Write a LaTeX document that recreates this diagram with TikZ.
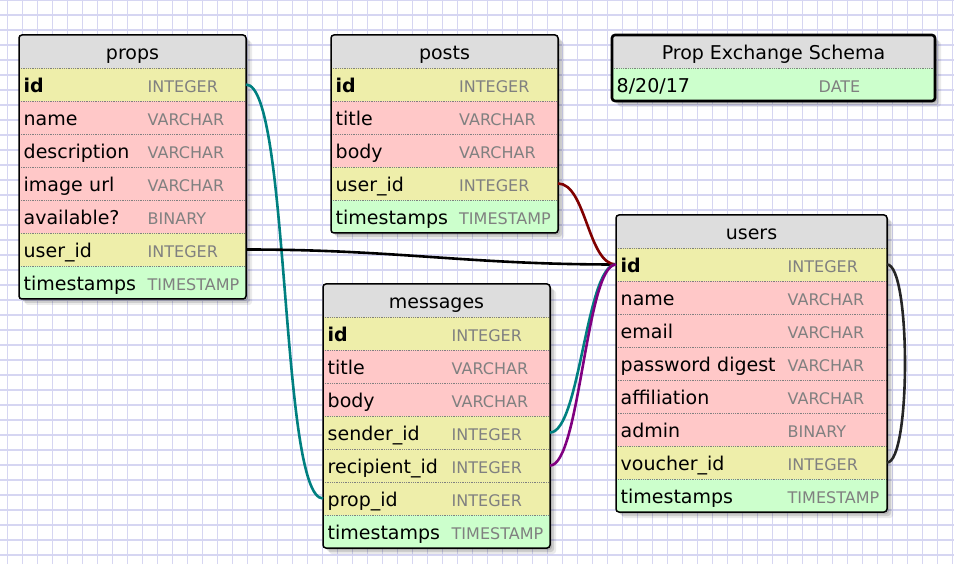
\documentclass[tikz,border=0pt]{standalone}
\usepackage{fontspec}
\setmainfont{DejaVu Sans}
\usetikzlibrary{shadows}

\definecolor{gridline}{RGB}{214,214,242}
\definecolor{headgray}{RGB}{221,221,221}
\definecolor{keyyellow}{RGB}{238,238,170}
\definecolor{fieldpink}{RGB}{255,200,200}
\definecolor{stampgreen}{RGB}{204,255,204}
\definecolor{typegray}{RGB}{128,128,128}
\definecolor{linkteal}{RGB}{0,128,128}
\definecolor{linkred}{RGB}{128,0,0}
\definecolor{linkpurple}{RGB}{128,0,128}

\pgfdeclarelayer{back}
\pgfsetlayers{back,main}

% field name in a fixed column, then its type
\newcommand{\fld}[3]{\makebox[#1][l]{#2}{\fontsize{16}{16}\selectfont\color{typegray}#3}}

\begin{document}
\begin{tikzpicture}[
    x=1pt, y=-1pt,
    every node/.style={outer sep=0pt, font=\fontsize{19}{19}\selectfont},
    tablehead/.style={anchor=north west, fill=headgray, minimum height=33pt,
        text height=17pt, text depth=1.5pt, inner sep=0pt},
    tablerow/.style={anchor=north west, minimum height=33pt, align=left,
        text height=17pt, text depth=1.5pt, inner xsep=4.7pt, inner ysep=0pt},
    rowsep/.style={typegray, densely dotted, line width=0.8pt},
    tableframe/.style={draw=black, line width=1.5pt, rounded corners=3pt},
    tableshadow/.style={fill=white, rounded corners=3pt,
        general shadow={shadow xshift=2pt, shadow yshift=-2pt, fill=black, opacity=0.12},
        general shadow={shadow xshift=4pt, shadow yshift=-4pt, fill=black, opacity=0.12},
        general shadow={shadow xshift=6pt, shadow yshift=-6pt, fill=black, opacity=0.08}},
    link/.style={line width=2.6pt},
    ]
    \useasboundingbox (0,0) rectangle (954,564);
    \begin{pgfonlayer}{back}
        \fill[white] (0,0) rectangle (954,564);
        \foreach \gx in {7.5,22.5,...,952.5}
            \draw[gridline, line width=1.2pt] (\gx,0) -- (\gx,564);
        \foreach \gy in {0,15,...,555}
            \draw[gridline, line width=1.2pt] (0,\gy) -- (954,\gy);
    \end{pgfonlayer}

    % props
    \node[tablehead, minimum width=227pt] (props-0) at (19,35) {props};
    \foreach \f/\t/\c [count=\i] in {{\bfseries id}/INTEGER/keyyellow,
        name/VARCHAR/fieldpink, description/VARCHAR/fieldpink,
        image url/VARCHAR/fieldpink, available?/BINARY/fieldpink,
        user\_id/INTEGER/keyyellow, timestamps/TIMESTAMP/stampgreen} {
        \node[tablerow, fill=\c, text width=217.6pt] (props-\i) at (19,{35+33*\i}) {\fld{124pt}{\f}{\t}};
        \draw[rowsep] (props-\i.north west) -- (props-\i.north east);
    }

    % posts
    \node[tablehead, minimum width=227pt] (posts-0) at (331,35) {posts};
    \foreach \f/\t/\c [count=\i] in {{\bfseries id}/INTEGER/keyyellow,
        title/VARCHAR/fieldpink, body/VARCHAR/fieldpink,
        user\_id/INTEGER/keyyellow, timestamps/TIMESTAMP/stampgreen} {
        \node[tablerow, fill=\c, text width=217.6pt] (posts-\i) at (331,{35+33*\i}) {\fld{123.5pt}{\f}{\t}};
        \draw[rowsep] (posts-\i.north west) -- (posts-\i.north east);
    }

    % messages
    \node[tablehead, minimum width=227pt] (messages-0) at (323,284) {messages};
    \foreach \f/\t/\c [count=\i] in {{\bfseries id}/INTEGER/keyyellow,
        title/VARCHAR/fieldpink, body/VARCHAR/fieldpink,
        sender\_id/INTEGER/keyyellow, recipient\_id/INTEGER/keyyellow,
        prop\_id/INTEGER/keyyellow, timestamps/TIMESTAMP/stampgreen} {
        \node[tablerow, fill=\c, text width=217.6pt] (messages-\i) at (323,{284+33*\i}) {\fld{124pt}{\f}{\t}};
        \draw[rowsep] (messages-\i.north west) -- (messages-\i.north east);
    }

    % users
    \node[tablehead, minimum width=271pt] (users-0) at (616,215) {users};
    \foreach \f/\t/\c [count=\i] in {{\bfseries id}/INTEGER/keyyellow,
        name/VARCHAR/fieldpink, email/VARCHAR/fieldpink,
        password digest/VARCHAR/fieldpink, affiliation/VARCHAR/fieldpink,
        admin/BINARY/fieldpink, voucher\_id/INTEGER/keyyellow,
        timestamps/TIMESTAMP/stampgreen} {
        \node[tablerow, fill=\c, text width=261.6pt] (users-\i) at (616,{215+33*\i}) {\fld{167pt}{\f}{\t}};
        \draw[rowsep] (users-\i.north west) -- (users-\i.north east);
    }

    % schema title
    \node[tablehead, minimum width=323pt] (schema-0) at (612,35) {Prop Exchange Schema};
    \node[tablerow, fill=stampgreen, text width=313.6pt] (schema-1) at (612,68) {\fld{202pt}{8/20/17}{DATE}};
    \draw[rowsep] (schema-1.north west) -- (schema-1.north east);

    \begin{pgfonlayer}{back}
        \foreach \tb/\n in {props/7, posts/5, messages/7, users/8, schema/1}
            \path[tableshadow] (\tb-0.north west) rectangle (\tb-\n.south east);
    \end{pgfonlayer}
    \foreach \tb/\n in {props/7, posts/5, messages/7, users/8}
        \draw[tableframe] (\tb-0.north west) rectangle (\tb-\n.south east);
    \draw[tableframe, line width=2.6pt] (schema-0.north west) rectangle (schema-1.south east);

    % relations
    \draw[link, linkteal] (props-1.east) .. controls +(44,0) and +(-43,0) .. (messages-6.west);
    \draw[link, black] (props-6.east) .. controls +(150,0) and +(-150,0) .. (users-1.west);
    \draw[link, linkred] (posts-4.east) .. controls +(28,0) and +(-28,0) .. (users-1.west);
    \draw[link, linkteal] (messages-4.east) .. controls +(30,0) and +(-30,0) .. (users-1.west);
    \draw[link, linkpurple] (messages-5.east) .. controls +(30,0) and +(-30,0) .. (users-1.west);
    \draw[link, black!85] (users-1.east) .. controls +(24,0) and +(24,0) .. (users-7.east);
\end{tikzpicture}
\end{document}
